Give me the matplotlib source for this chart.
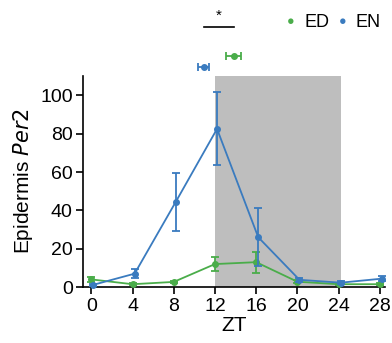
import matplotlib
matplotlib.use("Agg")
import matplotlib.pyplot as plt
import numpy as np

plt.rcParams['font.family'] = ['Liberation Sans', 'DejaVu Sans']

zt = [0, 4, 8, 12, 16, 20, 24, 28]
ed_mean = [4.0, 1.5, 2.7, 12.0, 13.0, 2.8, 1.5, 1.5]
ed_err = [1.2, 0.5, 0.6, 3.6, 5.5, 0.8, 0.5, 0.5]
en_mean = [1.2, 7.0, 44.5, 82.5, 26.0, 3.8, 2.3, 4.4]
en_err = [0.6, 2.5, 15.0, 19.0, 15.0, 1.0, 0.8, 1.2]

phase_labels = ['EN', 'ED']
phase_x = [10.9, 13.8]
phase_err = [0.5, 0.7]
phase_y = [114.7, 120.4]

green = '#4aad4a'
blue = '#3a7bbf'

fig = plt.figure(figsize=(3.92, 3.43), dpi=100)
ax = fig.add_axes([0.212, 0.163, 0.770, 0.615])

ax.axvspan(12, 24.2, color='#bebebe', lw=0, zorder=0)

x_ed = np.array(zt, dtype=float)
x_en = np.array(zt, dtype=float) + 0.2
ax.errorbar(x_ed, ed_mean, yerr=ed_err, color=green, marker='o', ms=4,
            lw=1.3, capsize=3, elinewidth=1.3, capthick=1.3, clip_on=False, zorder=3)
ax.errorbar(x_en, en_mean, yerr=en_err, color=blue, marker='o', ms=4,
            lw=1.3, capsize=3, elinewidth=1.3, capthick=1.3, clip_on=False, zorder=4)

for lab, px, pe, py in zip(phase_labels, phase_x, phase_err, phase_y):
    c = blue if lab == 'EN' else green
    ax.errorbar([px], [py], xerr=[pe], color=c, marker='o', ms=4,
                capsize=3, elinewidth=1.3, capthick=1.3, clip_on=False)

ax.plot([phase_x[0], phase_x[1]], [135.6, 135.6], color='black', lw=1.2, clip_on=False)
ax.text((phase_x[0] + phase_x[1]) / 2, 138, '*', ha='center', va='bottom', fontsize=11)

ax.set_xlim(-0.8, 28.5)
ax.set_ylim(0, 110)
ax.set_xticks(zt)
ax.set_yticks([0, 20, 40, 60, 80, 100])
ax.tick_params(labelsize=14, width=1.2, length=5, pad=2.5)
ax.spines['top'].set_visible(False)
ax.spines['right'].set_visible(False)
ax.spines['left'].set_linewidth(1.2)
ax.spines['bottom'].set_linewidth(1.2)
ax.set_xlabel('ZT', fontsize=15, labelpad=1)
ax.set_ylabel('Epidermis $\\it{Per2}$', fontsize=15, labelpad=4)

# legend
fig.text(0.742, 0.935, '\u25CF', color=green, fontsize=9, va='center', ha='center')
fig.text(0.776, 0.935, 'ED', color='black', fontsize=13, va='center', ha='left')
fig.text(0.875, 0.935, '\u25CF', color=blue, fontsize=9, va='center', ha='center')
fig.text(0.907, 0.935, 'EN', color='black', fontsize=13, va='center', ha='left')

fig.savefig('out.png', dpi=100)
